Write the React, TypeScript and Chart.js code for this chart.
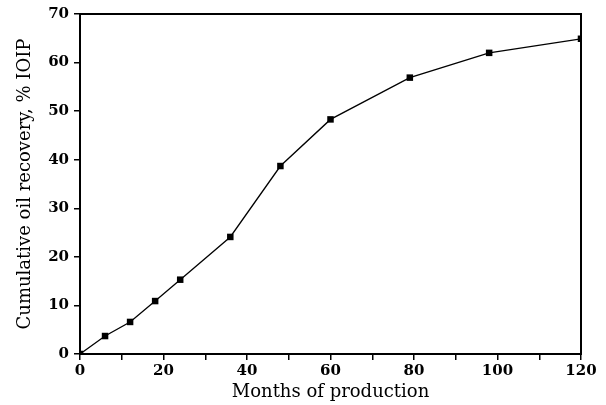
import React, { useEffect, useRef } from "react";
import { Chart, registerables } from "chart.js";

Chart.register(...registerables);

const months = [0, 6, 12, 18, 24, 36, 48, 60, 79, 98, 120];
const recovery = [0, 3.7, 6.6, 10.9, 15.3, 24.1, 38.7, 48.3, 56.9, 62.0, 64.9];
const xTitle = "Months of production";
const yTitle = "Cumulative oil recovery, % IOIP";

const frame = {
  id: "frame",
  afterDraw(chart: any) {
    const { ctx, chartArea } = chart;
    ctx.save();
    ctx.strokeStyle = "#000";
    ctx.lineWidth = 2;
    ctx.strokeRect(chartArea.left, chartArea.top, chartArea.right - chartArea.left, chartArea.bottom - chartArea.top);
    ctx.restore();
  },
};

export default function App() {
  const ref = useRef<HTMLCanvasElement>(null);
  useEffect(() => {
    const tickFont = { family: "DejaVu Serif", size: 15, weight: "bold" as const };
    const titleFont = { family: "DejaVu Serif", size: 18 };
    const chart = new Chart(ref.current!, {
      type: "line",
      data: {
        datasets: [
          {
            data: months.map((m, i) => ({ x: m, y: recovery[i] })),
            borderColor: "#000",
            backgroundColor: "#000",
            borderWidth: 1.3,
            pointStyle: "rect",
            pointRadius: 4.6,
            pointBorderWidth: 0,
            tension: 0,
          },
        ],
      },
      options: {
        responsive: false,
        animation: false,
        plugins: { legend: { display: false }, tooltip: { enabled: false } },
        layout: { padding: { left: 0, top: 13, right: 25, bottom: 0 } },
        scales: {
          x: {
            type: "linear",
            min: 0,
            max: 120,
            afterFit: (s: any) => { s.height = 51; },
            grid: { drawOnChartArea: false, drawTicks: true, tickLength: 6, color: "#000", lineWidth: 1.5 },
            border: { color: "#000", width: 2 },
            ticks: {
              stepSize: 10,
              autoSkip: false,
              maxRotation: 0,
              padding: 2,
              color: "#000",
              font: tickFont,
              callback: (v: any) => (Number(v) % 20 === 0 ? String(v) : ""),
            },
            title: { display: true, text: xTitle, color: "#000", font: titleFont, padding: { top: 0, bottom: 2 } },
          },
          y: {
            type: "linear",
            min: 0,
            max: 70,
            afterFit: (s: any) => { s.width = 80; },
            grid: { drawOnChartArea: false, drawTicks: true, tickLength: 6, color: "#000", lineWidth: 1.5 },
            border: { color: "#000", width: 2 },
            ticks: { stepSize: 10, padding: 5, color: "#000", font: tickFont },
            title: { display: true, text: yTitle, color: "#000", font: titleFont, padding: { top: 15, bottom: 0 } },
          },
        },
      },
      plugins: [frame],
    });
    return () => chart.destroy();
  }, []);
  return (
    <div style={{ position: "fixed", left: 0, top: 0, width: 606, height: 405, background: "#fff" }}>
      <canvas ref={ref} width={606} height={405} />
    </div>
  );
}
